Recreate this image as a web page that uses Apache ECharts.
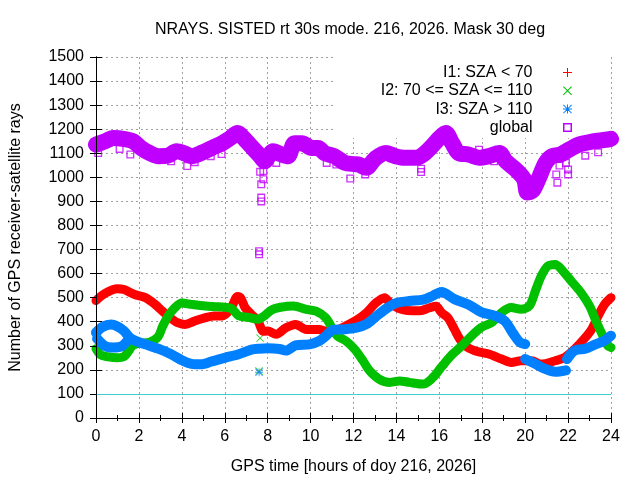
<!DOCTYPE html>
<html>
<head>
<meta charset="utf-8">
<script src="https://cdn.jsdelivr.net/npm/echarts@6/dist/echarts.min.js"></script>
<style>
  html, body { margin: 0; padding: 0; background: #fff; }
  #chart { width: 640px; height: 480px; }
</style>
</head>
<body>
<div id="chart"></div>
<script>
// values: [hour, rays]
const i1Band = [[0,488],[0.4,517],[1.0,537],[1.3,534],[1.8,513],[2.3,500],[2.75,472],[3.1,444],[3.45,417],[3.8,396],[4.15,389],[4.6,403],[5.1,417],[5.5,424],[5.9,424],[6.3,458],[6.6,505],[6.75,498],[6.95,458],[7.25,430],[7.55,403],[7.8,360],[8.0,361],[8.4,348],[8.85,375],[9.3,389],[9.8,368],[10.4,368],[10.7,361],[11.2,365],[11.7,385],[12.2,410],[12.6,437],[13.05,479],[13.45,500],[13.7,478],[14.1,455],[14.5,447],[15.1,446],[15.55,458],[15.85,464],[16.1,438],[16.4,417],[16.7,369],[16.95,328],[17.2,300],[17.65,279],[18.3,266],[18.9,245],[19.35,231],[19.8,238],[20.3,238],[20.75,224],[21.4,238],[21.85,252],[22.3,286],[22.8,334],[23.1,369],[23.4,424],[23.7,472],[24,500]];

const i2Band = [[0,288],[0.2,263],[0.5,255],[1.0,250],[1.3,255],[1.5,275],[1.7,300],[2.0,310],[2.5,315],[2.9,338],[3.1,380],[3.35,422],[3.65,456],[4.0,478],[4.45,472],[5.1,465],[5.7,462],[6.3,455],[6.65,425],[7.1,418],[7.55,410],[7.85,425],[8.2,450],[8.6,460],[9.2,465],[9.8,451],[10.25,444],[10.7,417],[11.0,375],[11.25,341],[11.65,320],[12.05,286],[12.45,237],[12.75,196],[13.2,161],[13.7,148],[14.15,154],[14.6,148],[15.25,141],[15.7,168],[16.1,212],[16.55,259],[17.05,300],[17.5,341],[17.95,376],[18.45,397],[18.9,438],[19.35,459],[19.8,452],[20.2,466],[20.5,534],[20.75,590],[21.05,631],[21.4,638],[21.7,617],[22.15,569],[22.6,521],[23.0,466],[23.3,403],[23.55,355],[23.85,300],[24,293]];
const i2Odd = [[7.65,332],[7.6,195]];

const i3Main = [[0,355],[0.3,378],[0.7,388],[1.0,380],[1.3,362],[1.6,332],[1.9,318],[2.3,306],[2.9,288],[3.5,265],[4.0,240],[4.45,225],[4.9,223],[5.4,235],[6.0,250],[6.65,265],[7.25,284],[7.6,288],[8.0,290],[8.55,287],[8.85,280],[9.3,302],[9.95,306],[10.4,320],[10.7,340],[11.05,366],[11.5,368],[12.1,374],[12.6,390],[13.05,422],[13.55,456],[14.0,478],[14.6,486],[15.25,492],[15.7,508],[16.1,524],[16.7,494],[17.35,472],[17.95,440],[18.6,424],[19.05,403],[19.45,350],[19.75,315],[20.0,307]];
const i3Loop = [[0.05,330],[0.4,300],[0.8,293],[1.2,298],[1.5,325]];
const i3Dip = [[20.0,245],[20.45,226],[20.9,205],[21.4,192],[21.9,198]];
const i3Tail = [[21.95,245],[22.3,280],[22.8,288],[23.25,305],[23.7,322],[24,342]];
const i3Odd = [[7.6,190]];

const globalBand = [[0,1136],[0.4,1149],[0.8,1163],[1.35,1159],[1.75,1149],[2.1,1122],[2.5,1101],[2.9,1088],[3.35,1090],[3.75,1108],[4.15,1099],[4.45,1088],[4.9,1101],[5.4,1122],[5.85,1140],[6.25,1163],[6.6,1184],[6.95,1156],[7.3,1122],[7.65,1088],[7.85,1067],[8.25,1108],[8.65,1095],[8.95,1088],[9.25,1142],[9.6,1142],[10.05,1122],[10.35,1122],[10.65,1101],[11.1,1088],[11.6,1060],[12.05,1055],[12.25,1053],[12.6,1040],[13.0,1077],[13.5,1101],[13.95,1088],[14.4,1081],[14.9,1081],[15.25,1095],[15.65,1129],[16.0,1163],[16.3,1184],[16.6,1142],[16.9,1101],[17.35,1095],[17.85,1081],[18.3,1088],[18.8,1101],[19.1,1067],[19.55,1033],[19.95,992],[20.1,937],[20.35,945],[20.65,999],[20.95,1060],[21.25,1088],[21.65,1095],[22.05,1115],[22.5,1136],[23.15,1149],[23.75,1156],[24,1160]];
const globalOdd = [[0.1,1101],[1.1,1118],[1.6,1095],[3.5,1067],[4.25,1047],[4.6,1063],[5.35,1088],[5.85,1097],[7.65,1023],[7.8,1026],[7.8,992],[7.7,971],[7.7,916],[7.7,900],[7.6,693],[7.6,680],[8.4,1060],[10.75,1060],[11.2,1053],[11.85,995],[12.55,1012],[15.15,1036],[15.15,1022],[17.85,1115],[18.55,1067],[21.45,1012],[21.5,978],[21.6,1049],[22.0,1033],[22.0,1012],[21.9,1060],[22.8,1090],[23.4,1104]];

const legendNames = ["I1: SZA < 70", "I2: 70 <= SZA <= 110", "I3: SZA > 110", "global"];
const refLevel = 100;

const RED = "#ff0000", GREEN = "#00c000", BLUE = "#0080ff", PURPLE = "#c000ff";
const FONT = "Liberation Sans";

const plusIcon = "path://M4 0h1v4h4v1h-4v4h-1v-4h-4v-1h4z";
const crossIcon = "path://M0 0.7L0.7 0L4.5 3.8L8.3 0L9 0.7L5.2 4.5L9 8.3L8.3 9L4.5 5.2L0.7 9L0 8.3L3.8 4.5Z";
const starIcon = "path://M4 0h1v4h4v1h-4v4h-1v-4h-4v-1h4zM0 0.7L0.7 0L4.5 3.8L8.3 0L9 0.7L5.2 4.5L9 8.3L8.3 9L4.5 5.2L0.7 9L0 8.3L3.8 4.5Z";
const boxIcon = "path://M0 0H9V9H0ZM1.5 1.5V7.5H7.5V1.5Z";

// join segments with null gaps so the line breaks
function joinSegments(...segs) {
  const out = [];
  segs.forEach((s, i) => {
    if (i > 0) out.push(null);
    out.push(...s);
  });
  return out;
}

function band(name, color, data, width, extra) {
  return Object.assign({
    name: name,
    type: "line",
    data: data,
    showSymbol: false,
    symbol: "none",
    smooth: 0.3,
    connectNulls: false,
    color: color,
    itemStyle: { color: color },
    lineStyle: { color: color, width: width, cap: "round", join: "round" },
    emphasis: { disabled: true },
    silent: true,
  }, extra || {});
}

const chart = echarts.init(document.getElementById("chart"), null, { renderer: "canvas" });

const axisText = { color: "#000", fontFamily: FONT, fontSize: 16 };

chart.setOption({
  animation: false,
  backgroundColor: "#fff",
  title: {
    text: "NRAYS. SISTED rt 30s mode. 216, 2026. Mask 30 deg",
    left: 345,
    top: 17,
    textAlign: "center",
    textStyle: { color: "#000", fontFamily: FONT, fontSize: 16, fontWeight: "normal" },
  },
  legend: {
    orient: "vertical",
    align: "right",
    right: 29,
    top: 57,
    z: 1,
    padding: [7, 39, 2, 46],
    backgroundColor: "#fff",
    itemWidth: 60,
    itemHeight: 9,
    itemGap: 1.3,
    selectedMode: false,
    itemStyle: { borderWidth: 0 },
    textStyle: { color: "#000", fontFamily: FONT, fontSize: 16, lineHeight: 17 },
    data: [
      { name: legendNames[0], icon: plusIcon },
      { name: legendNames[1], icon: crossIcon },
      { name: legendNames[2], icon: starIcon },
      { name: legendNames[3], icon: boxIcon },
    ],
  },
  grid: { left: 94, right: 29, top: 57, bottom: 62, containLabel: false },
  xAxis: [
    {
      type: "value",
      min: 0, max: 24, interval: 2,
      name: "GPS time [hours of doy 216, 2026]",
      nameLocation: "middle",
      nameGap: 41,
      nameTextStyle: axisText,
      axisLine: { show: true, lineStyle: { color: "#000", width: 1 } },
      axisTick: { show: true, inside: true, length: 5, lineStyle: { color: "#000" } },
      minorTick: { show: true, splitNumber: 2, length: 3, lineStyle: { color: "#000" } },
      axisLabel: Object.assign({ margin: 11 }, axisText),
      splitLine: { show: true, lineStyle: { color: "#a0a0a0", type: [2, 3], width: 1 } },
    },
    {
      type: "value",
      position: "top",
      min: 0, max: 24, interval: 2,
      z: 5,
      axisLine: { show: true, lineStyle: { color: "#000", width: 1 } },
      axisTick: { show: true, inside: true, length: 5, lineStyle: { color: "#000" } },
      minorTick: { show: true, splitNumber: 2, length: 3, lineStyle: { color: "#000" } },
      axisLabel: { show: false },
      splitLine: { show: false },
    },
  ],
  yAxis: [
    {
      type: "value",
      min: 0, max: 1500, interval: 100,
      name: "Number of GPS receiver-satellite rays",
      nameLocation: "middle",
      nameGap: 72,
      nameTextStyle: axisText,
      axisLine: { show: true, lineStyle: { color: "#000", width: 1 } },
      axisTick: { show: true, inside: true, length: 6, lineStyle: { color: "#000" } },
      axisLabel: Object.assign({ margin: 12, formatter: (v) => String(v) }, axisText),
      splitLine: { show: true, lineStyle: { color: "#a0a0a0", type: [2, 3], width: 1 } },
    },
    {
      type: "value",
      position: "right",
      min: 0, max: 1500, interval: 100,
      z: 5,
      axisLine: { show: true, lineStyle: { color: "#000", width: 1 } },
      axisTick: { show: true, inside: true, length: 6, lineStyle: { color: "#000" } },
      axisLabel: { show: false },
      splitLine: { show: false },
    },
  ],
  series: [
    band(legendNames[0], RED, i1Band, 9, {
      markLine: {
        silent: true,
        symbol: "none",
        label: { show: false },
        lineStyle: { color: "#40d0d0", width: 1, type: "solid" },
        data: [{ yAxis: refLevel }],
      },
    }),
    band(legendNames[1], GREEN, i2Band, 9),
    {
      name: legendNames[1], type: "scatter", data: i2Odd, symbol: crossIcon, symbolSize: 8,
      itemStyle: { color: GREEN }, silent: true,
    },
    band(legendNames[2], BLUE, joinSegments(i3Main, i3Loop, i3Dip, i3Tail), 10),
    {
      name: legendNames[2], type: "scatter", data: i3Odd, symbol: starIcon, symbolSize: 8,
      itemStyle: { color: BLUE }, silent: true,
    },
    band(legendNames[3], PURPLE, globalBand, 16),
    {
      name: legendNames[3], type: "scatter", data: globalOdd, symbol: boxIcon, symbolSize: 8,
      itemStyle: { color: PURPLE }, silent: true,
    },
  ],
});
</script>
</body>
</html>
